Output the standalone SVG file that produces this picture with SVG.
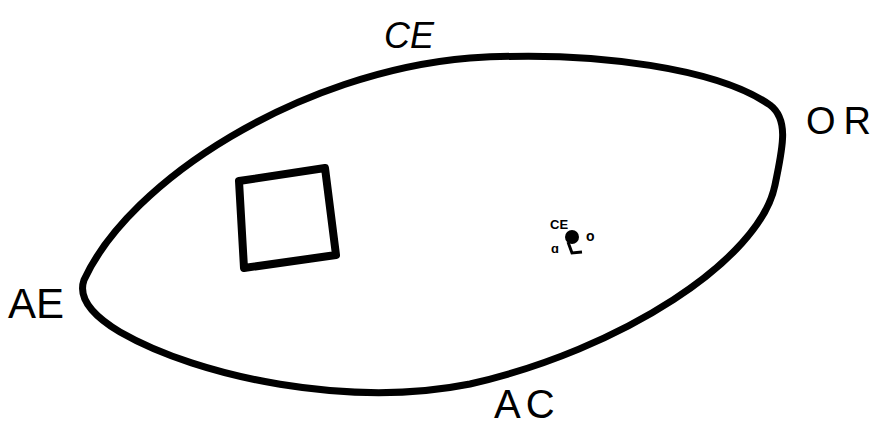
<svg xmlns="http://www.w3.org/2000/svg" width="883" height="427" viewBox="0 0 883 427">
<style>
.lbl{font-family:"Liberation Sans",Arial,sans-serif;fill:#000}
.shape{fill:none;stroke:#000;stroke-linejoin:round;stroke-linecap:round}
</style>
<rect width="883" height="427" fill="#fff"/>
<g id="boundary">
<path class="shape" stroke-width="7" d="M84,280 C130,180 300,72 470,58 C600,50 720,70 770,105 C790,120 782,150 775,185 C760,260 620,350 470,384 C350,408 200,378 120,332 C90,314 78,297 84,280 Z"/>
</g>
<g id="square">
<path class="shape" stroke-width="8" d="M239,181 L325,168 L336,255 L244,268 Z"/>
</g>
<g id="label-CE"><text class="lbl" x="384" y="48" font-size="36" font-style="italic">CE</text></g>
<g id="label-OR"><text class="lbl" x="806" y="134" font-size="38">O<tspan dx="8">R</tspan></text></g>
<g id="label-AE"><text class="lbl" x="8" y="318" font-size="42">AE</text></g>
<g id="label-AC"><text class="lbl" x="494" y="418" font-size="40">A<tspan dx="5">C</tspan></text></g>
<g id="small-cluster">
<text class="lbl" x="550" y="229" font-size="13" font-weight="bold">CE</text>
<ellipse cx="572" cy="237" rx="7" ry="7" fill="#000"/>
<text class="lbl" x="586" y="241" font-size="14" font-weight="bold">o</text>
<text class="lbl" x="551" y="253" font-size="13" font-weight="bold">ɑ</text>
<path d="M568,242 L572,253 L582,252" fill="none" stroke="#000" stroke-width="3"/>
</g>
</svg>
